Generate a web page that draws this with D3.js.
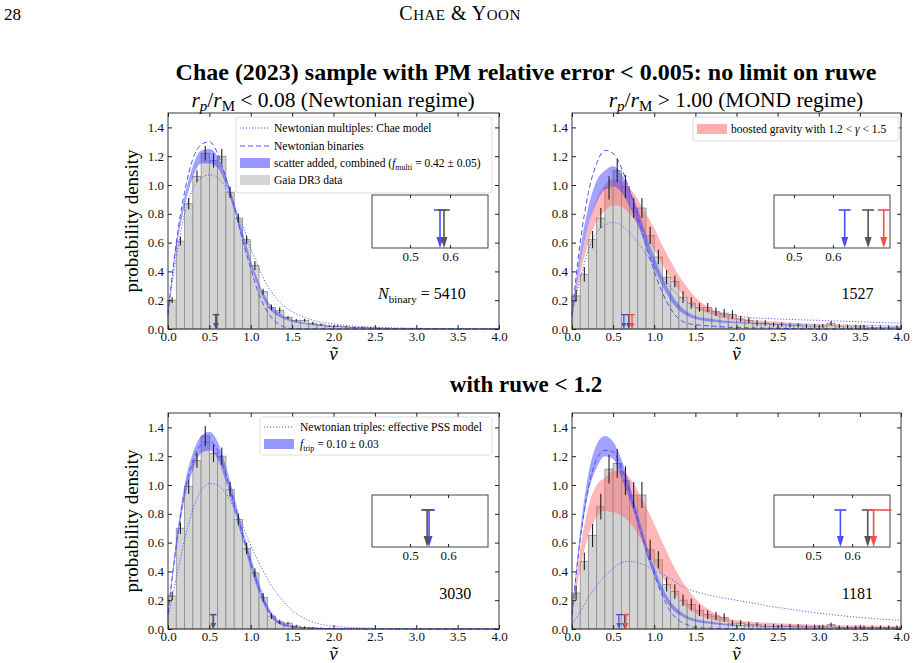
<!DOCTYPE html>
<html><head><meta charset="utf-8">
<script src="https://cdn.jsdelivr.net/npm/d3@7"></script>
<style>body{margin:0;background:#fff}text{font-family:"Liberation Serif","DejaVu Serif",serif}</style>
</head><body>
<svg id="fig" width="916" height="663"></svg>
<script>
// model curves are sampled on this grid of v~
var grid = [0,0.1,0.2,0.3,0.4,0.5,0.6,0.7,0.8,0.9,1.0,1.1,1.2,1.3,1.4,1.5,1.7,2.0,2.5,3.0,3.5,4.0];
var binCenters = d3.range(40).map(function(i){ return +(0.05 + 0.1*i).toFixed(2); });

// top left: Newtonian regime
var tlHist = [0.2,0.61,0.87,1.06,1.22,1.17,1.2,0.95,0.77,0.62,0.44,0.26,0.15,0.13,0.08,0.06,0.06,0.04,0.03,0.02,0.02,0.015,0.01,0.01,0.008,0.006,0.005,0.004,0.004,0.003,0.003,0.002,0.002,0.002,0.001,0.001,0.001,0.001,0.001,0.001];
var tlErr = [0.02,0.03,0.04,0.04,0.05,0.05,0.05,0.04,0.03,0.03,0.03,0.02,0.02,0.02,0.01,0.01,0.01,0.01,0.008,0.006,0.006,0.005,0.005,0.005,0.004,0.004,0.004,0.003,0.003,0.003,0.003,0.002,0.002,0.002,0.002,0.002,0.002,0.002,0.002,0.002];
var tlDotted = [0.12,0.5,0.8,0.97,1.05,1.07,1.05,0.98,0.85,0.72,0.56,0.42,0.3,0.22,0.16,0.12,0.07,0.035,0.012,0.005,0.002,0];
var tlDashed = [0.1,0.6,0.95,1.18,1.28,1.3,1.22,1.05,0.85,0.62,0.42,0.24,0.12,0.05,0.015,0.003,0,0,0,0,0,0];
var tlBlueLo = [0.1,0.55,0.85,1.05,1.15,1.15,1.12,1.0,0.82,0.62,0.44,0.28,0.16,0.1,0.07,0.05,0.03,0.015,0.005,0.002,0.001,0];
var tlBlueHi = [0.12,0.6,0.92,1.13,1.24,1.25,1.2,1.06,0.88,0.68,0.48,0.32,0.2,0.13,0.09,0.065,0.04,0.02,0.007,0.003,0.001,0];
var tlArrows = [0.575,0.585];

// top right: MOND regime
var trHist = [0.23,0.38,0.62,0.77,0.98,1.1,0.99,0.84,0.84,0.65,0.5,0.36,0.33,0.22,0.18,0.15,0.15,0.12,0.11,0.1,0.07,0.06,0.04,0.04,0.03,0.03,0.025,0.025,0.02,0.02,0.02,0.04,0.02,0.015,0.015,0.015,0.01,0.01,0.01,0.01];
var trErr = [0.04,0.05,0.06,0.07,0.08,0.08,0.08,0.07,0.07,0.06,0.05,0.05,0.04,0.04,0.04,0.03,0.03,0.03,0.03,0.03,0.02,0.02,0.02,0.02,0.015,0.015,0.015,0.015,0.015,0.015,0.015,0.015,0.015,0.015,0.015,0.015,0.015,0.015,0.015,0.015];
var trDotted = [0.1,0.35,0.55,0.67,0.72,0.74,0.72,0.67,0.6,0.52,0.44,0.36,0.29,0.23,0.19,0.15,0.12,0.09,0.07,0.06,0.05,0.04];
var trDashed = [0.1,0.6,0.95,1.15,1.24,1.22,1.12,0.96,0.78,0.58,0.4,0.25,0.14,0.07,0.04,0.03,0.02,0.01,0.005,0,0,0];
var trBlueLo = [0.08,0.45,0.72,0.88,0.97,0.99,0.95,0.85,0.72,0.57,0.42,0.3,0.2,0.13,0.09,0.07,0.05,0.04,0.03,0.025,0.02,0.015];
var trBlueHi = [0.1,0.55,0.85,1.03,1.1,1.13,1.08,0.97,0.83,0.66,0.5,0.36,0.25,0.17,0.12,0.09,0.07,0.05,0.04,0.03,0.025,0.02];
var trRedLo = [0.07,0.38,0.6,0.75,0.82,0.86,0.85,0.8,0.73,0.64,0.55,0.45,0.35,0.27,0.2,0.15,0.1,0.06,0.04,0.03,0.025,0.02];
var trRedHi = [0.09,0.45,0.72,0.9,1.0,1.04,1.03,0.98,0.9,0.8,0.7,0.58,0.47,0.37,0.29,0.22,0.14,0.08,0.05,0.035,0.03,0.025];
var trArrows = [0.63,0.69,0.73];

// bottom left: Newtonian, ruwe < 1.2
var blHist = [0.23,0.7,0.99,1.17,1.34,1.22,1.2,0.97,0.76,0.56,0.39,0.22,0.09,0.05,0.04,0.02,0.01,0.008,0.005,0.004,0.003,0.003,0.002,0.002,0.002,0.001,0.001,0.001,0.001,0.001,0.001,0.001,0.001,0.001,0.001,0.001,0.001,0.001,0.001,0.001];
var blErr = [0.03,0.04,0.05,0.05,0.07,0.06,0.06,0.05,0.04,0.04,0.03,0.03,0.02,0.015,0.01,0.01,0.008,0.006,0.005,0.004,0.003,0.003,0.003,0.003,0.002,0.002,0.002,0.002,0.002,0.002,0.002,0.002,0.002,0.002,0.002,0.002,0.002,0.002,0.002,0.002];
var blDotted = [0.08,0.35,0.62,0.83,0.96,1.01,1.0,0.94,0.84,0.72,0.58,0.46,0.35,0.26,0.19,0.13,0.06,0.02,0.005,0,0,0];
var blDashed = [0.11,0.58,0.95,1.16,1.28,1.3,1.24,1.07,0.87,0.66,0.46,0.28,0.14,0.06,0.03,0.015,0.007,0.002,0,0,0,0];
var blBlueLo = [0.1,0.55,0.9,1.1,1.22,1.24,1.18,1.02,0.82,0.62,0.42,0.25,0.12,0.05,0.02,0.01,0.005,0,0,0,0,0];
var blBlueHi = [0.12,0.62,1.0,1.22,1.34,1.37,1.3,1.13,0.92,0.7,0.5,0.32,0.17,0.08,0.04,0.02,0.01,0.003,0,0,0,0];
var blArrows = [0.55,0.545];

// bottom right: MOND, ruwe < 1.2
var brHist = [0.25,0.47,0.65,0.85,1.11,1.15,1.03,0.93,0.93,0.55,0.48,0.31,0.26,0.2,0.17,0.13,0.1,0.09,0.08,0.04,0.04,0.03,0.03,0.02,0.02,0.02,0.02,0.02,0.015,0.015,0.015,0.03,0.01,0.01,0.01,0.01,0.01,0.01,0.01,0.01];
var brErr = [0.05,0.06,0.08,0.09,0.1,0.1,0.1,0.09,0.09,0.07,0.06,0.05,0.05,0.04,0.04,0.04,0.03,0.03,0.03,0.02,0.02,0.02,0.015,0.015,0.015,0.015,0.015,0.015,0.015,0.015,0.015,0.015,0.015,0.015,0.015,0.015,0.015,0.015,0.015,0.015];
var brDotted = [0.03,0.12,0.22,0.3,0.37,0.42,0.46,0.47,0.46,0.44,0.41,0.38,0.35,0.31,0.28,0.26,0.23,0.2,0.15,0.11,0.08,0.06];
var brDashed = [0.1,0.62,0.98,1.18,1.24,1.23,1.12,0.95,0.75,0.55,0.38,0.23,0.12,0.06,0.03,0.01,0.005,0,0,0,0,0];
var brBlueLo = [0.08,0.6,0.95,1.12,1.2,1.18,1.05,0.9,0.72,0.53,0.37,0.24,0.15,0.1,0.07,0.05,0.035,0.02,0.015,0.01,0.007,0.005];
var brBlueHi = [0.1,0.68,1.08,1.28,1.34,1.3,1.18,1.0,0.8,0.6,0.43,0.29,0.19,0.13,0.09,0.07,0.05,0.03,0.02,0.015,0.012,0.01];
var brRedLo = [0.07,0.42,0.65,0.78,0.82,0.81,0.79,0.74,0.66,0.56,0.46,0.36,0.28,0.21,0.15,0.11,0.07,0.04,0.02,0.015,0.012,0.01];
var brRedHi = [0.09,0.55,0.85,1.0,1.05,1.1,1.1,1.05,0.96,0.85,0.73,0.6,0.48,0.37,0.28,0.21,0.12,0.06,0.04,0.03,0.025,0.02];
var brArrows = [0.57,0.64,0.655];

var xTicks = d3.range(0, 4.01, 0.5);
var yTicks = d3.range(0, 1.41, 0.2);
var insetTicks = [0.5, 0.6];

var BLUE = "#4b4bff", GRAY = "#555", RED = "#ff4b4b";

var panels = [
  {x0:168, x1:499, y0:113, y1:329, hist:tlHist, err:tlErr, dotted:tlDotted, dashed:tlDashed, blue:[tlBlueLo,tlBlueHi], red:null,
   arrows:tlArrows, inset:{x0:372,x1:488,y0:195,y1:248,dom:[0.405,0.695]}, count:"binary", ylab:true},
  {x0:572, x1:901, y0:113, y1:329, hist:trHist, err:trErr, dotted:trDotted, dashed:trDashed, blue:[trBlueLo,trBlueHi], red:[trRedLo,trRedHi],
   arrows:trArrows, inset:{x0:774,x1:890,y0:195,y1:248,dom:[0.449,0.746]}, count:"1527", ylab:false},
  {x0:168, x1:499, y0:413, y1:629, hist:blHist, err:blErr, dotted:blDotted, dashed:blDashed, blue:[blBlueLo,blBlueHi], red:null,
   arrows:blArrows, inset:{x0:372,x1:488,y0:495,y1:547,dom:[0.4,0.705]}, count:"3030", ylab:true},
  {x0:572, x1:901, y0:413, y1:629, hist:brHist, err:brErr, dotted:brDotted, dashed:brDashed, blue:[brBlueLo,brBlueHi], red:[brRedLo,brRedHi],
   arrows:brArrows, inset:{x0:774,x1:890,y0:495,y1:547,dom:[0.4,0.697]}, count:"1181", ylab:false}
];

var svg = d3.select("#fig");

// page header and titles
svg.append("text").attr("x", 4).attr("y", 20).attr("font-size", 17).text("28");
var hdr = svg.append("text").attr("x", 460).attr("y", 20).attr("text-anchor", "middle").attr("font-size", 20).attr("letter-spacing", 0.5);
hdr.append("tspan").text("C"); hdr.append("tspan").attr("font-size", 15).text("HAE");
hdr.append("tspan").text(" & Y"); hdr.append("tspan").attr("font-size", 15).text("OON");
svg.append("text").attr("x", 526).attr("y", 80).attr("text-anchor", "middle").attr("font-size", 24).attr("font-weight", "bold")
  .text("Chae (2023) sample with PM relative error < 0.005: no limit on ruwe");
svg.append("text").attr("x", 526).attr("y", 392).attr("text-anchor", "middle").attr("font-size", 23).attr("font-weight", "bold")
  .text("with ruwe < 1.2");

function subtitle(cx, rel, rest) {
  var t = svg.append("text").attr("x", cx).attr("y", 107).attr("text-anchor", "middle").attr("font-size", 21.5);
  t.append("tspan").attr("font-style", "italic").text("r");
  t.append("tspan").attr("font-style", "italic").attr("font-size", 15).attr("dy", 4).text("p");
  t.append("tspan").attr("dy", -4).text("/");
  t.append("tspan").attr("font-style", "italic").text("r");
  t.append("tspan").attr("font-size", 15).attr("dy", 4).text("M");
  t.append("tspan").attr("dy", -4).text(" " + rel + " " + rest);
}
subtitle(333, "<", "0.08 (Newtonian regime)");
subtitle(736, ">", "1.00 (MOND regime)");

panels.forEach(function(p) {
  var x = d3.scaleLinear().domain([0, 4]).range([p.x0, p.x1]);
  var y = d3.scaleLinear().domain([0, 1.5]).range([p.y1, p.y0]);
  var g = svg.append("g");

  // histogram
  g.selectAll("rect.bar").data(p.hist).enter().append("rect")
    .attr("x", function(d, i){ return x(binCenters[i] - 0.05); })
    .attr("width", x(0.1) - x(0))
    .attr("y", function(d){ return y(d); })
    .attr("height", function(d){ return y(0) - y(d); })
    .attr("fill", "#d3d3d3").attr("stroke", "#8a8a8a").attr("stroke-width", 0.8);

  var area = function(lo, hi) {
    return d3.area().x(function(d, i){ return x(grid[i]); })
      .y0(function(d, i){ return y(lo[i]); }).y1(function(d, i){ return y(hi[i]); })
      .curve(d3.curveMonotoneX)(lo);
  };
  if (p.red) g.append("path").attr("d", area(p.red[0], p.red[1])).attr("fill", "#ff6060").attr("fill-opacity", 0.45);
  g.append("path").attr("d", area(p.blue[0], p.blue[1])).attr("fill", "#3030ff").attr("fill-opacity", 0.45);

  var line = d3.line().x(function(d, i){ return x(grid[i]); }).y(function(d){ return y(d); }).curve(d3.curveMonotoneX);
  g.append("path").attr("d", line(p.dotted)).attr("fill", "none").attr("stroke", "#6060ff").attr("stroke-width", 1).attr("stroke-dasharray", "1.2,1.8");
  g.append("path").attr("d", line(p.dashed)).attr("fill", "none").attr("stroke", "#5050ff").attr("stroke-width", 1).attr("stroke-dasharray", "5,3");

  // error bars
  g.selectAll("line.err").data(p.hist).enter().append("line")
    .attr("x1", function(d, i){ return x(binCenters[i]); }).attr("x2", function(d, i){ return x(binCenters[i]); })
    .attr("y1", function(d, i){ return y(d + p.err[i]); })
    .attr("y2", function(d, i){ return y(Math.max(0, d - p.err[i])); })
    .attr("stroke", "#222").attr("stroke-width", 1.1);

  // mean arrows on the main axis
  var cols = [BLUE, GRAY, RED];
  p.arrows.forEach(function(v, k) {
    var ax = x(v);
    g.append("line").attr("x1", ax - 3).attr("x2", ax + 3).attr("y1", y(0.1)).attr("y2", y(0.1)).attr("stroke", cols[k]).attr("stroke-width", 1.3);
    g.append("line").attr("x1", ax).attr("x2", ax).attr("y1", y(0.1)).attr("y2", y(0) - 5).attr("stroke", cols[k]).attr("stroke-width", 1.3);
    g.append("path").attr("d", "M" + (ax - 2.5) + "," + (y(0) - 6) + "L" + (ax + 2.5) + "," + (y(0) - 6) + "L" + ax + "," + y(0) + "Z").attr("fill", cols[k]);
  });

  // frame and axes
  g.append("rect").attr("x", p.x0).attr("y", p.y0).attr("width", p.x1 - p.x0).attr("height", p.y1 - p.y0)
    .attr("fill", "none").attr("stroke", "#222").attr("stroke-width", 0.9);
  var styleAx = function(sel) {
    sel.select(".domain").remove();
    sel.selectAll("line").attr("stroke", "#222");
    sel.selectAll("text").attr("font-family", "Liberation Serif").attr("font-size", 13).attr("fill", "#111");
  };
  g.append("g").attr("transform", "translate(0," + p.y1 + ")")
    .call(d3.axisBottom(x).tickValues(xTicks).tickFormat(d3.format(".1f")).tickSizeInner(-4).tickPadding(3)).call(styleAx);
  g.append("g").attr("transform", "translate(0," + p.y0 + ")")
    .call(d3.axisTop(x).tickValues(xTicks).tickFormat("").tickSizeInner(-4)).call(styleAx);
  g.append("g").attr("transform", "translate(" + p.x0 + ",0)")
    .call(d3.axisLeft(y).tickValues(yTicks).tickFormat(d3.format(".1f")).tickSizeInner(-4).tickPadding(4)).call(styleAx);
  g.append("g").attr("transform", "translate(" + p.x1 + ",0)")
    .call(d3.axisRight(y).tickValues(yTicks).tickFormat("").tickSizeInner(-4)).call(styleAx);

  g.append("text").attr("x", (p.x0 + p.x1) / 2).attr("y", p.y1 + 31).attr("text-anchor", "middle")
    .attr("font-size", 19).attr("font-style", "italic").text("ṽ");
  if (p.ylab) {
    g.append("text").attr("transform", "translate(" + (p.x0 - 30) + "," + ((p.y0 + p.y1) / 2) + ") rotate(-90)")
      .attr("text-anchor", "middle").attr("font-size", 19).text("probability density");
  }

  // count label
  var ct = g.append("text").attr("x", p.count === "binary" ? 378 : x(3.47)).attr("y", p.y1 - 30).attr("font-size", 16);
  if (p.count === "binary") {
    ct.append("tspan").attr("font-style", "italic").text("N");
    ct.append("tspan").attr("font-size", 11).attr("dy", 4).text("binary");
    ct.append("tspan").attr("dy", -4).text(" = 5410");
  } else ct.attr("text-anchor", "middle").text(p.count);

  // inset with mean markers
  var ins = p.inset;
  var ix = d3.scaleLinear().domain(ins.dom).range([ins.x0, ins.x1]);
  g.append("rect").attr("x", ins.x0).attr("y", ins.y0).attr("width", ins.x1 - ins.x0).attr("height", ins.y1 - ins.y0)
    .attr("fill", "#fff").attr("stroke", "#444").attr("stroke-width", 1);
  g.append("g").attr("transform", "translate(0," + ins.y1 + ")")
    .call(d3.axisBottom(ix).tickValues(insetTicks).tickFormat(d3.format(".1f")).tickSizeInner(-3).tickPadding(4)).call(styleAx);
  g.append("g").attr("transform", "translate(0," + ins.y0 + ")")
    .call(d3.axisTop(ix).tickValues(insetTicks).tickFormat("").tickSizeInner(-3)).call(styleAx);
  var capY = ins.y0 + 15;
  p.arrows.forEach(function(v, k) {
    var ax = ix(v);
    var halfR = (k === 2 && p.count === "1181") ? 18 : 6;
    g.append("line").attr("x1", ax - 6).attr("x2", ax + halfR).attr("y1", capY).attr("y2", capY).attr("stroke", cols[k]).attr("stroke-width", 1.6);
    g.append("line").attr("x1", ax).attr("x2", ax).attr("y1", capY).attr("y2", ins.y1 - 8).attr("stroke", cols[k]).attr("stroke-width", 1.6);
    g.append("path").attr("d", "M" + (ax - 3.5) + "," + (ins.y1 - 11) + "L" + (ax + 3.5) + "," + (ins.y1 - 11) + "L" + ax + "," + ins.y1 + "Z").attr("fill", cols[k]);
  });
});

// legends
function legendBox(x0, y0, w, h) {
  svg.append("rect").attr("x", x0).attr("y", y0).attr("width", w).attr("height", h).attr("rx", 3)
    .attr("fill", "#fff").attr("fill-opacity", 0.8).attr("stroke", "#ddd");
}
function legLine(x0, yy, dash) {
  svg.append("line").attr("x1", x0).attr("x2", x0 + 30).attr("y1", yy).attr("y2", yy)
    .attr("stroke", "#5050ff").attr("stroke-dasharray", dash).attr("stroke-width", 1);
}
function legPatch(x0, yy, col, op) {
  svg.append("rect").attr("x", x0).attr("y", yy - 5).attr("width", 30).attr("height", 10).attr("fill", col).attr("fill-opacity", op);
}
function legText(x0, yy) {
  return svg.append("text").attr("x", x0).attr("y", yy + 4).attr("font-size", 11.5);
}
legendBox(236, 117, 256, 76);
legLine(240, 128, "1.2,1.8"); legText(274, 128).text("Newtonian multiples: Chae model");
legLine(240, 146, "5,3"); legText(274, 146).text("Newtonian binaries");
legPatch(240, 163, "#3030ff", 0.5);
var lt = legText(274, 163).text("scatter added, combined (");
lt.append("tspan").attr("font-style", "italic").text("f");
lt.append("tspan").attr("font-size", 8).attr("dy", 3).text("multi");
lt.append("tspan").attr("dy", -3).text(" = 0.42 ± 0.05)");
legPatch(240, 180, "#bbbbbb", 0.6); legText(274, 180).text("Gaia DR3 data");

legendBox(693, 117, 206, 24);
legPatch(697, 129, "#ff6060", 0.5);
var lr = legText(731, 129).text("boosted gravity with 1.2 < ");
lr.append("tspan").attr("font-style", "italic").text("γ");
lr.append("tspan").text(" < 1.5");

legendBox(260, 417, 232, 38);
legLine(264, 427, "1.2,1.8"); legText(300, 427).text("Newtonian triples: effective PSS model");
legPatch(264, 444, "#3030ff", 0.5);
var lb = legText(300, 444);
lb.append("tspan").attr("font-style", "italic").text("f");
lb.append("tspan").attr("font-size", 8).attr("dy", 3).text("trip");
lb.append("tspan").attr("dy", -3).text(" = 0.10 ± 0.03");
</script>
</body></html>
